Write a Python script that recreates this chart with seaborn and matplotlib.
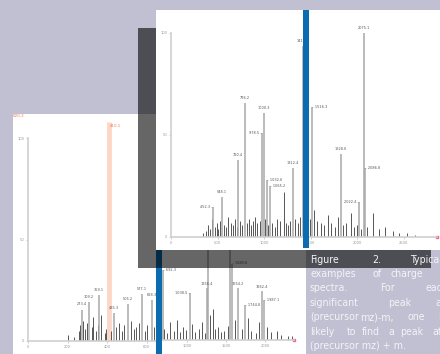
import matplotlib
matplotlib.use("Agg")
import matplotlib.pyplot as plt
from matplotlib.patches import Rectangle
import seaborn as sns

# --- data ---
# top spectrum (big panel)
top_mz = [452.3, 548.1, 720.4, 796.2, 978.5, 1000.3, 1032.6, 1065.2, 1312.4, 1419.7, 1516.3, 1828.6, 2022.4, 2075.1, 2086.8]
top_int = [14.7, 19.6, 37.7, 65.7, 51.0, 60.8, 28.0, 25.0, 33.8, 93.6, 63.7, 40.7, 17.2, 100.0, 33.8]
top_noise_mz = [340, 372, 395, 418, 440, 468, 490, 505, 522, 570, 593, 613, 640, 665, 688, 705, 745, 768, 812, 838,
                862, 884, 905, 930, 955, 1015, 1048, 1090, 1118, 1142, 1172, 1215, 1232, 1258, 1282, 1338, 1362, 1388,
                1440, 1470, 1495, 1540, 1572, 1612, 1645, 1690, 1718, 1762, 1795, 1852, 1880, 1935, 1968, 2005, 2048,
                2112, 2170, 2232, 2300, 2385, 2455, 2540, 2620]
top_noise_int = [2, 3, 6, 4, 9, 5, 7, 4, 8, 6, 5, 10, 7, 6, 9, 5, 8, 6, 7, 9,
                 6, 8, 10, 7, 8, 9, 6, 7, 5, 9, 8, 22, 7, 6, 8, 9, 7, 10,
                 6, 8, 9, 13, 8, 7, 6, 11, 7, 5, 10, 6, 7, 12, 5, 6, 4,
                 5, 12, 4, 5, 3, 2, 2, 1]
top_xticks = [0, 500, 1000, 1500, 2000, 2500]

# left spectrum
left_mz = [273.4, 309.2, 359.1, 435.3, 506.2, 577.1, 628.3]
left_int = [15.5, 19.0, 22.8, 14.0, 18.4, 23.0, 20.0]
left_noise_mz = [205, 232, 256, 262, 281, 290, 298, 322, 330, 345, 352, 372, 388, 396, 420,
                 448, 462, 475, 488, 520, 535, 548, 560, 592, 605, 640, 655, 672, 690, 705]
left_noise_int = [3, 2, 5, 8, 10, 6, 9, 7, 12, 5, 8, 13, 4, 6, 5,
                  7, 9, 5, 8, 10, 6, 7, 9, 5, 8, 7, 10, 6, 5, 4]
left_marker_mz = 410.1
left_precursor = "820.2"
left_xticks = [0, 200, 400, 600]

# bottom spectrum
bottom_mz = [692.3, 1038.5, 1256.4, 1269.2, 1551.3, 1580.6, 1654.2, 1744.8, 1962.4, 1987.1]
bottom_int = [78, 52, 58, 100, 100, 85, 58, 39, 55, 44]
bottom_noise_mz = [710, 745, 782, 830, 868, 905, 950, 985, 1070, 1105, 1150, 1190, 1225, 1300, 1330, 1365,
                   1400, 1440, 1480, 1520, 1610, 1700, 1780, 1820, 1880, 1920, 2030, 2080, 2150, 2210, 2290, 2350]
bottom_noise_int = [12, 8, 20, 10, 22, 9, 14, 11, 18, 9, 12, 20, 8, 28, 35, 12,
                    14, 9, 10, 16, 22, 12, 25, 10, 8, 20, 15, 9, 10, 6, 5, 4]
bottom_xticks = [1000, 1500, 2000]

yticks = [0, 50, 100]

caption = [
    ["Figure", "2.", "Typical"],
    ["examples", "of", "charge"],
    ["spectra.", "For", "each"],
    ["significant", "peak", "at"],
    ["(precursor", "mz)-m,", "one", "is"],
    ["likely", "to", "find", "a", "peak", "at"],
    ["(precursor mz) + m."],
]

# --- layout (pixels) ---
W, H = 440, 354
BG = "#c1c0d2"
BLUE = "#0b6cb0"


def frac(x0, y0, x1, y1):
    return [x0 / W, 1 - y1 / H, (x1 - x0) / W, (y1 - y0) / H]


def card(fig, x0, y0, x1, y1, z, color="white", alpha=1.0):
    fig.patches.append(Rectangle((x0 / W, 1 - y1 / H), (x1 - x0) / W, (y1 - y0) / H,
                                 transform=fig.transFigure, facecolor=color, edgecolor="none",
                                 alpha=alpha, zorder=z))


def spectrum(ax, mz, inten, ha, noise_mz, noise_int, xticks, xlim):
    ax.set_facecolor("none")
    ax.vlines(noise_mz, 0, noise_int, color="#3c3c3c", lw=0.6)
    ax.vlines(mz, 0, inten, color="#a8a8a8", lw=1.1)
    for m, i, h in zip(mz, inten, ha):
        lab = f"{m:.1f}"
        if h == "center":
            ax.text(m, i + 1.5, lab, ha="center", va="bottom", fontsize=2.5, color="#555555", clip_on=False)
        elif h == "left":
            ax.text(m, i, "– " + lab, ha="left", va="center", fontsize=2.5, color="#555555", clip_on=False)
        else:
            ax.text(m, i, lab + " –", ha="right", va="center", fontsize=2.5, color="#555555", clip_on=False)
    ax.set_xlim(*xlim)
    ax.set_ylim(0, 100)
    ax.set_xticks(xticks)
    ax.set_yticks(yticks)
    ax.tick_params(length=1.5, width=0.5, color="#bbbbbb", labelsize=2.6, labelcolor="#999999", pad=1.2)
    sns.despine(ax=ax)
    for s in ["left", "bottom"]:
        ax.spines[s].set_color("#cfcfcf")
        ax.spines[s].set_linewidth(1.2)
    ax.plot([xlim[1]], [0], marker="s", ms=1.6, color="#f06a90", clip_on=False)


sns.set_theme(style="ticks")
plt.rcParams["font.family"] = ["DejaVu Sans"]

fig = plt.figure(figsize=(4.4, 3.54), dpi=100, facecolor=BG)

# left panel
card(fig, 13, 114, 175, 354, 1.0)
ax_l = fig.add_axes(frac(28, 138, 175, 341), zorder=1.1)
spectrum(ax_l, left_mz, left_int, ["center"] * len(left_mz), left_noise_mz, left_noise_int,
         left_xticks, (0, (175 - 28) / 0.1975))
ax_l.vlines([left_marker_mz], 0, 108, color="#fcd6c6", lw=3.4, clip_on=False, zorder=0.5)
ax_l.text(left_marker_mz + 4, 106, f"{left_marker_mz:.1f}", ha="left", va="center", fontsize=2.8,
          color="#f07a52", clip_on=False)
fig.text(13 / W, 1 - 116 / H, left_precursor, ha="left", va="center", fontsize=3.0, color="#f07a52", zorder=1.2)

# bottom panel
card(fig, 156, 250, 306, 354, 2.0)
ax_b = fig.add_axes(frac(162, 250, 294, 340), zorder=2.1)
spectrum(ax_b, bottom_mz, bottom_int,
         ["left", "right", "center", "center", "center", "left", "center", "left", "center", "left"],
         bottom_noise_mz, bottom_noise_int, bottom_xticks,
         (1000 + (162 - 187) / 0.078, 1000 + (294 - 187) / 0.078))
ax_b.spines["left"].set_visible(False)
ax_b.tick_params(axis="y", left=False, labelleft=False)
card(fig, 156, 250, 162, 354, 2.5, color=BLUE)

# dark translucent band
card(fig, 138, 28, 431, 268, 3.0, color="black", alpha=0.6)

# top panel
card(fig, 156, 10, 440, 250, 4.0)
ax_t = fig.add_axes(frac(171, 33, 437, 237), zorder=4.1)
spectrum(ax_t, top_mz, top_int,
         ["right", "center", "center", "center", "right", "center", "left", "left", "center", "center",
          "left", "center", "right", "center", "left"],
         top_noise_mz, top_noise_int, top_xticks, (0, (437 - 171) / 0.093))
card(fig, 303, 10, 309, 248, 4.5, color=BLUE)

# caption, justified word by word
word_x = [
    [310, 372, 410],
    [310, 372, 390],
    [310, 380, 425],
    [310, 388, 435],
    [310, 360, 407, 438],
    [310, 347, 362, 388, 400, 432],
    [310],
]
line_y = [260, 274, 288, 303, 317, 332, 346]
for words, xs, y in zip(caption, word_x, line_y):
    for w, x in zip(words, xs):
        fig.text(x / W, 1 - y / H, w, ha="left", va="center", fontsize=7.6, fontstretch="condensed",
                 color="#f3f3f8", zorder=5)

fig.savefig("out.png", dpi=100, facecolor=BG)
